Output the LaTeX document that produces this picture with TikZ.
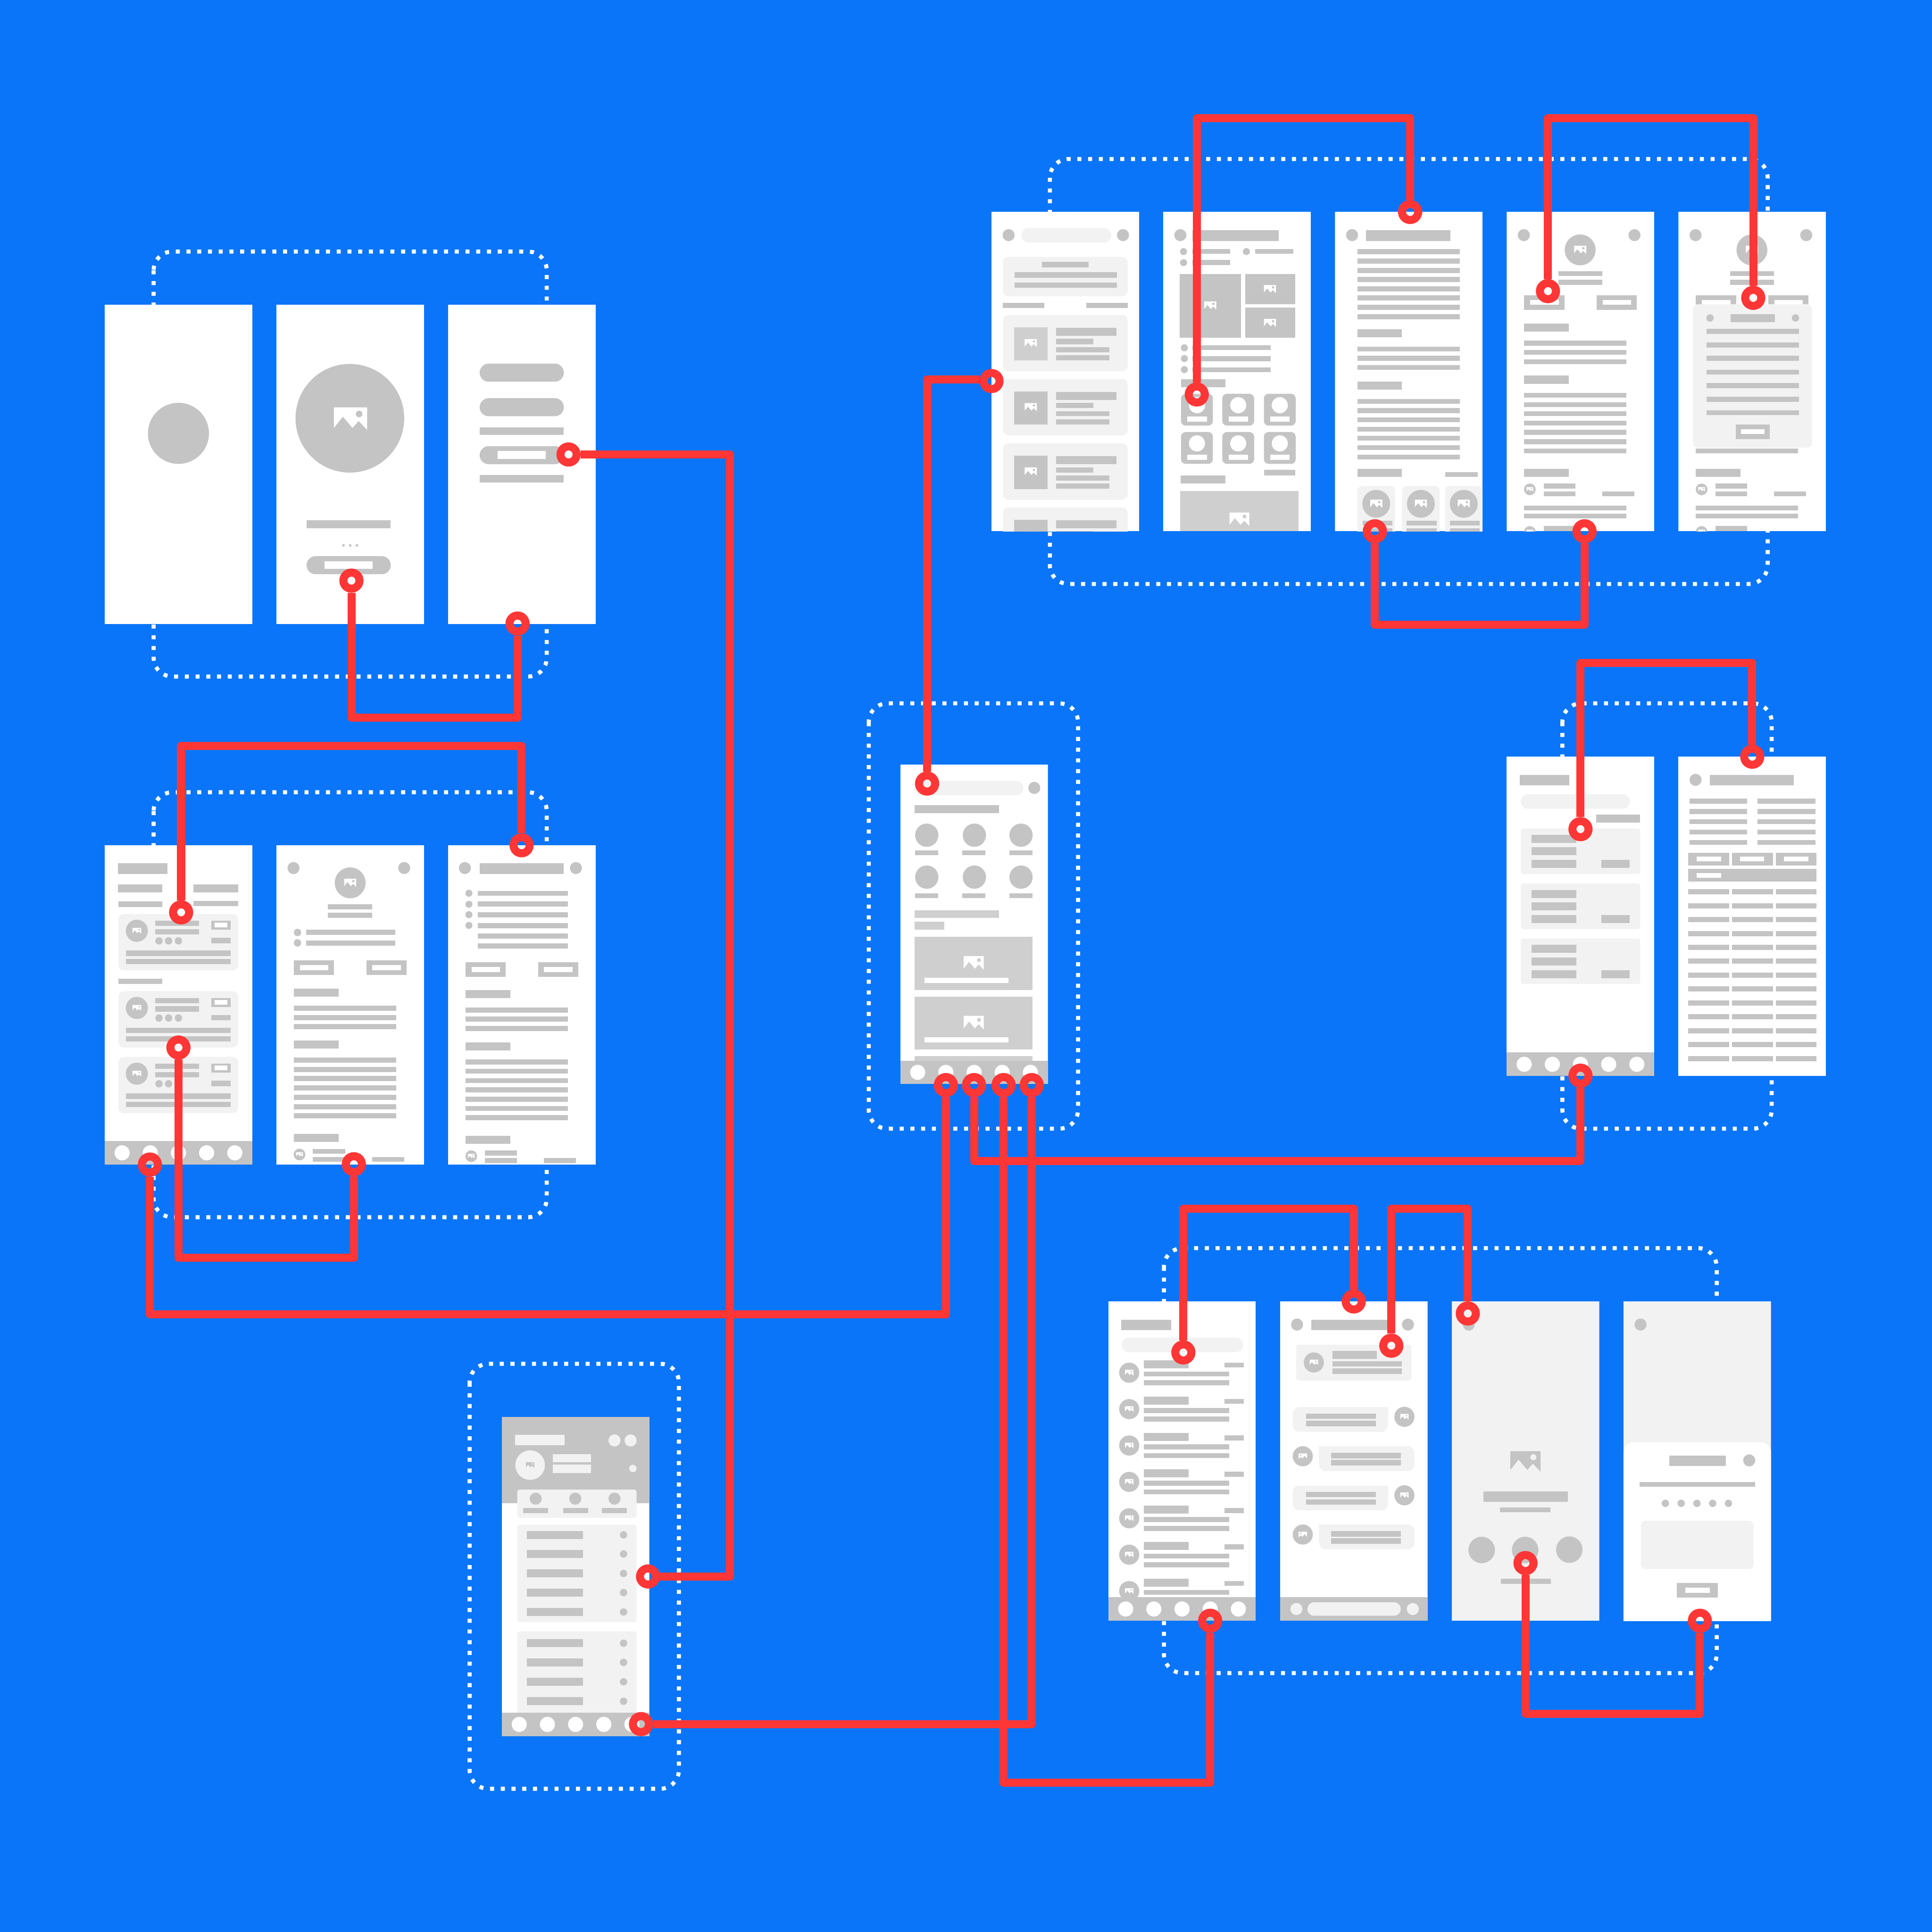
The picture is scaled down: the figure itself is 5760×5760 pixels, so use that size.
\documentclass[tikz,border=0pt]{standalone}
\definecolor{bluebg}{HTML}{0A75F8}
\definecolor{redl}{HTML}{FF3636}
\definecolor{gr}{HTML}{C4C4C4}
\definecolor{lg}{HTML}{F2F2F2}
\definecolor{mg}{HTML}{CFCFCF}
\tikzset{
  ring/.style={circle,draw=redl,line width=2.4mm,minimum size=4.8mm,inner sep=0pt,fill=none},
  link/.style={draw=redl,line width=2.4mm,line join=round},
  dotbox/.style={draw=white,line width=1.2mm,dash pattern=on 1.2mm off 2mm,rounded corners=5.6mm},
}
% bars
\newcommand\Bg[4]{\fill[gr] (#1,#2) rectangle ++(#3,#4);}
\newcommand\Bm[4]{\fill[mg] (#1,#2) rectangle ++(#3,#4);}
\newcommand\Bl[4]{\fill[lg] (#1,#2) rectangle ++(#3,#4);}
\newcommand\Bw[4]{\fill[white] (#1,#2) rectangle ++(#3,#4);}
% rounded rectangles: colour, x,y,w,h, radius in mm
\newcommand\Rd[6]{\fill[#1,rounded corners=#6mm] (#2,#3) rectangle ++(#4,#5);}
% discs
\newcommand\Cg[3]{\fill[gr] (#1,#2) circle[radius=#3];}
\newcommand\Cl[3]{\fill[lg] (#1,#2) circle[radius=#3];}
\newcommand\Cw[3]{\fill[white] (#1,#2) circle[radius=#3];}
% picture icon: cx,cy,scale (1 = 100 wide), fg, bg, xscale sign
\newcommand\Ic[6][1]{\begin{scope}[shift={(#2,#3)},scale=#4,xscale=#1]
  \fill[#5] (-50,28) -- (-50,-34) -- (50,-34) -- (50,34) -- (24.5,7) -- (6,28) -- (-23,-6) -- cycle;
  \fill[#6] (26,-14) circle[radius=10];
\end{scope}}
\newcommand\Nav{\Bg{0}{882}{440}{70}\foreach \x in {52,136,220,304,388}{\Cw{\x}{917}{22.5}}}
\newcommand\BtnPair[1]{% y top
  \Bg{52}{#1}{120}{44}\Bw{70}{\the\numexpr#1+14\relax}{85}{15}
  \Bg{268}{#1}{120}{44}\Bw{286}{\the\numexpr#1+14\relax}{85}{15}}
\newcommand\TFour{%
  \Cg{51}{69}{18}\Cg{381}{69}{18}
  \Cg{219}{113}{46}\Ic{219}{113}{0.36}{white}{gr}
  \Bg{154}{176}{131}{15}\Bg{154}{202}{131}{15}
  \BtnPair{248}
  \Bg{52}{333}{133}{24}
  \foreach \y in {384,411,439}{\Bg{52}{\y}{305}{15}}
  \Bg{52}{488}{133}{24}
  \foreach \y in {539,567,594,622,649,677,705}{\Bg{52}{\y}{305}{15}}
  \Bg{52}{766}{133}{24}
  \Cg{69}{827}{17.5}\Ic{69}{827}{0.2}{white}{gr}
  \Bg{110}{810}{95}{15}\Bg{110}{833}{95}{15}\Bg{285}{833}{95}{15}
  \Bg{52}{875}{305}{15}\Bg{52}{899}{305}{15}
  \Cg{69}{954}{17.5}\Ic{69}{954}{0.2}{white}{gr}
  \Bg{110}{936}{95}{16}}
\begin{document}
\begin{tikzpicture}[x=0.1mm,y=-0.1mm]
\useasboundingbox (0,0) rectangle (5760,5760);
\fill[bluebg] (0,0) rectangle (5760,5760);
% dotted group frames
\draw[dotbox] (458,750) rectangle (1630,2017);
\draw[dotbox] (458,2362) rectangle (1630,3629);
\draw[dotbox] (3130,474) rectangle (5270,1741);
\draw[dotbox] (2590,2097) rectangle (3214,3365);
\draw[dotbox] (4658,2097) rectangle (5282,3365);
\draw[dotbox] (3470,3721) rectangle (5118,4988);
\draw[dotbox] (1400,4066) rectangle (2024,5333);

% ---------- group A
\begin{scope}[shift={(312,908)}]
  \fill[white] (0,0) rectangle (440,952);
  \Cg{220}{384}{91}
\end{scope}
\begin{scope}[shift={(824,908)}]
  \fill[white] (0,0) rectangle (440,952);
  \Cg{219}{339}{162}\Ic{221}{340}{0.99}{white}{gr}
  \Bg{90}{643}{251}{24}
  \foreach \x in {200,220,240}{\Cg{\x}{718}{4}}
  \Rd{gr}{90}{750}{251}{54}{2.7}
  \Bw{143}{765}{144}{23}
\end{scope}
\begin{scope}[shift={(1336,908)}]
  \fill[white] (0,0) rectangle (440,952);
  \Rd{gr}{94}{176}{251}{54}{2.7}
  \Rd{gr}{94}{279}{251}{54}{2.7}
  \Bg{94}{366}{251}{23}
  \Rd{gr}{94}{422}{251}{54}{2.7}
  \Bw{148}{437}{143}{23}
  \Bg{94}{508}{251}{23}
\end{scope}

% ---------- group B
\begin{scope}[shift={(312,2520)}]
  \fill[white] (0,0) rectangle (440,952);
  \Bg{39}{54}{148}{32}
  \Bg{39}{117}{133}{24}\Bg{265}{117}{133}{24}
  \Bg{41}{168}{131}{16}\Bg{265}{166}{133}{16}
  \Bg{41}{398}{131}{16}
  \foreach \t in {205,435,631}{
    \begin{scope}[yshift={-\t*0.1mm}]
      \Rd{lg}{41}{0}{357}{168}{1.6}
      \Cg{96}{50}{33}\Ic{96}{50}{0.26}{white}{gr}
      \Bg{151}{20}{131}{16}\Bg{151}{45}{131}{16}
      \foreach \x in {162,190.5,220}{\Cg{\x}{80}{11}}
      \Bg{318}{20}{58}{27}\Bw{328}{26}{38}{14}
      \Bg{318}{71}{58}{16}
      \Bg{63}{109}{313}{16}\Bg{63}{134}{313}{16}
    \end{scope}}
  \Nav
\end{scope}
\begin{scope}[shift={(824,2520)}]
  \fill[white] (0,0) rectangle (440,952);
  \Cg{51}{68}{18}\Cg{381}{68}{18}
  \Cg{220}{112}{46}\Ic{220}{112}{0.36}{white}{gr}
  \Bg{154}{176}{131}{15}\Bg{154}{201}{131}{15}
  \Cg{63}{260}{11}\Cg{63}{291}{11}
  \Bg{88}{252}{266}{15}\Bg{88}{284}{266}{15}
  \BtnPair{343}
  \Bg{52}{427}{133}{24}
  \foreach \y in {478,506,533}{\Bg{52}{\y}{305}{15}}
  \Bg{52}{582}{133}{24}
  \foreach \y in {633,661,688,716,744,772,799}{\Bg{52}{\y}{305}{15}}
  \Bg{52}{861}{133}{24}
  \Cg{69}{922}{17.5}\Ic{69}{922}{0.2}{white}{gr}
  \Bg{109}{905}{96}{15}\Bg{109}{929}{96}{15}\Bg{285}{929}{96}{15}
\end{scope}
\begin{scope}[shift={(1336,2520)}]
  \fill[white] (0,0) rectangle (440,952);
  \Cg{50}{68}{18}\Cg{381}{68}{18}
  \Bg{94}{54}{250}{32}
  \foreach \y in {143,176,207,239}{\Cg{62}{\y}{10.5}}
  \foreach \y in {136,168,200,232,263,293}{\Bg{88}{\y}{269}{15}}
  \BtnPair{349}
  \Bg{52}{432}{133}{24}
  \foreach \y in {484,511,539}{\Bg{52}{\y}{305}{15}}
  \Bg{52}{588}{133}{24}
  \foreach \y in {639,666,694,722,750,777,805}{\Bg{52}{\y}{305}{15}}
  \Bg{52}{866}{133}{24}
  \Cg{69}{927}{17.5}\Ic{69}{927}{0.2}{white}{gr}
  \Bg{109}{910}{96}{15}\Bg{109}{933}{96}{15}\Bg{285}{933}{96}{15}
\end{scope}

% ---------- top right group
\begin{scope}[shift={(2956,632)}]
  \clip (0,0) rectangle (440,952);
  \fill[white] (0,0) rectangle (440,952);
  \Cg{51}{69}{18}\Cg{392}{69}{18}
  \Rd{lg}{89}{48}{268}{43}{2.1}
  \Rd{lg}{34}{134}{372}{117}{1.6}
  \Bg{150}{149}{140}{16}
  \Bg{69}{180}{305}{16}\Bg{69}{210}{305}{16}
  \Bg{34}{271}{123}{15}\Bg{283}{271}{123}{15}
  \foreach \t/\c in {307/mg,498/gr,690/gr,881/gr}{
    \begin{scope}[yshift={-\t*0.1mm}]
      \Rd{lg}{34}{0}{372}{168}{1.6}
      \fill[\c] (68,37) rectangle ++(99,99);
      \Ic{117}{84}{0.36}{white}{\c}
      \Bg{193}{38}{179}{24}
      \Bg{193}{71}{110}{16}
      \Bg{193}{96}{159}{15}\Bg{193}{120}{159}{15}
    \end{scope}}
\end{scope}
\begin{scope}[shift={(3468,632)}]
  \clip (0,0) rectangle (440,952);
  \fill[white] (0,0) rectangle (440,952);
  \Cg{51}{69}{18}
  \Bg{87}{54}{257}{32}
  \Cg{60.5}{118}{10.5}\Cg{248}{118}{10.5}\Cg{60.5}{151}{10.5}
  \Bg{87}{110}{113}{15}\Bg{274}{110}{114}{15}\Bg{87}{143}{113}{15}
  \Bg{49}{185}{183}{190}\Ic{140}{279}{0.36}{white}{gr}
  \Bg{244}{185}{150}{90}\Ic{318}{230}{0.36}{white}{gr}
  \Bg{244}{285}{150}{90}\Ic{318}{331}{0.36}{white}{gr}
  \foreach \y in {405,437,470}{\Cg{63}{\y}{10.5}}
  \foreach \y in {397,430,463}{\Bg{87}{\y}{233}{15}}
  \Bg{53}{499}{133}{24}
  \foreach \x in {53,176,300}{\foreach \y in {542,656}{
    \begin{scope}[xshift=\x*0.1mm,yshift={-\y*0.1mm}]
      \Rd{gr}{0}{0}{95}{95}{1.4}
      \Cw{47.5}{34}{24}
      \Bw{19}{68}{58}{15}
    \end{scope}}}
  \Bg{300}{769}{94}{16}
  \Bg{52}{785}{133}{24}
  \Bm{51}{832}{352}{120}\Ic{227}{916}{0.59}{white}{mg}
\end{scope}
\begin{scope}[shift={(3980,632)}]
  \clip (0,0) rectangle (440,952);
  \fill[white] (0,0) rectangle (440,952);
  \Cg{51}{69}{18}
  \Bg{93}{54}{251}{32}
  \foreach \y in {111,139,167,194,222,249,277,305}{\Bg{67}{\y}{305}{15}}
  \Bg{67}{350}{133}{24}
  \foreach \y in {401,429,456}{\Bg{67}{\y}{305}{15}}
  \Bg{67}{506}{133}{24}
  \foreach \y in {557,585,612,640,667,695,723}{\Bg{67}{\y}{305}{15}}
  \Bg{67}{766}{133}{24}
  \Bg{328}{775}{98}{15}
  \foreach \x/\c in {67/123,200/256,328/384}{
    \Rd{lg}{\x}{817}{112}{180}{1.4}
    \Cg{\c}{870}{41.5}\Ic{\c}{870}{0.36}{white}{gr}
  }
  \foreach \x in {82,214,343}{\Bg{\x}{920}{89}{15}\Bg{\x}{943}{89}{15}}
\end{scope}
\begin{scope}[shift={(4492,632)}]
  \clip (0,0) rectangle (440,952);
  \fill[white] (0,0) rectangle (440,952);
  \TFour
\end{scope}
\begin{scope}[shift={(5004,632)}]
  \clip (0,0) rectangle (440,952);
  \fill[white] (0,0) rectangle (440,952);
  \TFour
  \Rd{lg}{43}{275}{355}{428}{1.4}
  \Cg{94}{316}{11}\Cg{349}{316}{11}
  \Bg{155}{305}{133}{24}
  \foreach \y in {348,389,429,470,510,551,591}{\Bg{84}{\y}{276}{15}}
  \Bg{171}{633}{101}{44}\Bw{186}{648}{71}{14}
\end{scope}

% ---------- centre screen
\begin{scope}[shift={(2684,2280)}]
  \clip (0,0) rectangle (440,952);
  \fill[white] (0,0) rectangle (440,952);
  \Rd{lg}{42}{48}{325}{43}{2.1}
  \Cg{399.5}{69}{18}
  \Bg{42}{121}{252}{24}
  \foreach \y/\b in {210/255,335/383}{
    \Cg{79}{\y}{34.7}\Cg{221}{\y}{34.7}\Cg{360}{\y}{34.7}
    \Bg{44.5}{\b}{69}{15}\Bg{185}{\b}{69}{15}\Bg{325}{\b}{69}{15}
  }
  \Bm{42}{434}{252}{23}\Bm{42}{468}{89}{23}
  \Bm{42}{513}{352}{158}\Ic{219}{591}{0.6}{white}{mg}\Bw{72}{635}{251}{15}
  \Bm{42}{691}{352}{158}\Ic{219}{769}{0.6}{white}{mg}\Bw{72}{813}{251}{15}
  \Bm{42}{868}{352}{20}
  \Nav
\end{scope}

% ---------- right middle group
\begin{scope}[shift={(4492,2256)}]
  \fill[white] (0,0) rectangle (440,952);
  \Bg{39}{54}{148}{31}
  \Rd{lg}{42}{112}{325}{43}{2.1}
  \Bg{266}{173}{132}{24}
  \foreach \t in {214,378,542}{
    \begin{scope}[yshift={-\t*0.1mm}]
      \Rd{lg}{42}{0}{356}{136}{0.8}
      \Bg{74}{19}{133}{24}\Bg{74}{56}{133}{24}\Bg{74}{94}{133}{24}
      \Bg{282}{94}{85}{24}
    \end{scope}}
  \Nav
\end{scope}
\begin{scope}[shift={(5004,2256)}]
  \fill[white] (0,0) rectangle (440,952);
  \Cg{51}{69}{18}
  \Bg{93}{54}{251}{31}
  \foreach \y in {125,156,186,217,248}{\Bg{33}{\y}{171}{15}\Bg{236}{\y}{172}{15}}
  \Bg{29}{286}{122}{39}\Bg{159}{286}{123}{39}\Bg{290}{286}{122}{39}
  \Bw{54}{298}{73}{14}\Bw{183}{298}{72}{14}\Bw{315}{298}{73}{14}
  \Bg{29}{334}{383}{38}\Bw{54}{347}{73}{14}
  \foreach \y in {395,437,478,520,561,602,644,685,727,768,810,851,893}{
    \Bg{29}{\y}{122}{15}\Bg{159}{\y}{123}{15}\Bg{290}{\y}{122}{15}}
\end{scope}

% ---------- bottom right group
\begin{scope}[shift={(3304,3880)}]
  \clip (0,0) rectangle (440,952);
  \fill[white] (0,0) rectangle (440,952);
  \Bg{39}{54}{148}{31}
  \Rd{lg}{40}{108}{362}{43}{2.1}
  \foreach \t in {0,1,2,3,4,5,6}{
    \begin{scope}[yshift={-\t*10.85mm}]
      \Cg{62.5}{212.5}{30}\Ic{62.5}{212.5}{0.25}{white}{gr}
      \Bg{106}{175}{133}{24}
      \Bg{346}{182}{58}{15}
      \Bg{106}{209}{255}{15}\Bg{106}{235}{255}{15}
    \end{scope}}
  \Nav
\end{scope}
\begin{scope}[shift={(3816,3880)}]
  \clip (0,0) rectangle (440,952);
  \fill[white] (0,0) rectangle (440,952);
  \Cg{51}{69}{18}\Cg{381.6}{69}{18}
  \Bg{94}{54}{250}{31}
  \Rd{lg}{48}{129}{344}{107}{0.8}
  \Cg{101}{182}{30}\Ic{101}{182}{0.25}{white}{gr}
  \Bg{156}{147}{133}{24}
  \Bg{156}{178}{208}{16}\Bg{156}{200}{208}{16}
  % incoming bubbles
  \foreach \t in {315,549}{
    \begin{scope}[yshift={-\t*0.1mm}]
      \Rd{lg}{38}{0}{284}{74}{2}\Bl{290}{0}{32}{30}
      \Cg{371}{29}{30}\Ic{371}{29}{0.25}{white}{gr}
      \Bg{78}{19}{208}{16}\Bg{78}{41}{208}{16}
    \end{scope}}
  % outgoing bubbles
  \foreach \t in {431.5,665}{
    \begin{scope}[yshift={-\t*0.1mm}]
      \Rd{lg}{116.5}{0}{284.5}{74}{2}\Bl{116.5}{0}{32}{30}
      \Cg{68}{30}{30}\Ic[-1]{68}{30}{0.25}{white}{gr}
      \Bg{153}{20}{207}{16}\Bg{153}{41}{207}{16}
    \end{scope}}
  \Bg{0}{882}{440}{70}
  \Cl{49}{917}{18}\Cl{396}{917}{18}
  \Rd{lg}{82}{897}{278}{40}{2}
\end{scope}
\begin{scope}[shift={(4328,3880)}]
  \clip (0,0) rectangle (440,952);
  \fill[lg] (0,0) rectangle (440,952);
  \Cg{51}{69}{18}
  \Ic{220}{477}{0.9}{gr}{lg}
  \Bg{95}{566}{251}{31}
  \Bg{144}{614}{150}{15}
  \Cg{89.4}{741}{39.5}\Cg{219}{741}{39.5}\Cg{350.6}{740}{39.5}
  \Bg{147}{827}{149}{15}
\end{scope}
\begin{scope}[shift={(4840,3880)}]
  \clip (0,0) rectangle (440,952);
  \fill[lg] (0,0) rectangle (440,952);
  \Cg{51}{69}{18}
  \Rd{white}{0}{420}{440}{660}{3}
  \Bg{136}{460}{169}{31}
  \Cg{375}{474}{18}
  \Bg{47.5}{538}{345}{15}
  \foreach \x in {125,172,219,266,313}{\Cg{\x}{602}{11}}
  \Rd{lg}{52}{654}{336}{144}{1.4}
  \Bg{159}{839}{123}{44}\Bw{185}{854}{72}{15}
\end{scope}

% ---------- bottom left screen
\begin{scope}[shift={(1496,4224)}]
  \clip (0,0) rectangle (440,952);
  \fill[white] (0,0) rectangle (440,952);
  \Bg{0}{0}{440}{257}
  \Bl{39}{54}{148}{31}
  \Cl{336}{70.5}{18}\Cl{384}{70.5}{18}
  \Cl{84.5}{144}{44}\Ic{84.5}{144}{0.25}{gr}{lg}
  \Bl{152}{111}{114}{24}\Bl{152}{143}{114}{24}
  \Cl{391}{154}{11}
  \Rd{lg}{46}{217}{356}{84}{0.8}
  \Cg{101}{244}{18}\Cg{219}{244}{18}\Cg{336}{244}{18}
  \Bg{64}{272}{74}{15}\Bg{183}{272}{74}{15}\Bg{298.5}{272}{74}{15}
  \Rd{lg}{46}{322}{356}{290}{0.8}
  \foreach \y in {340,397,455,512,570}{\Bg{75}{\y}{167}{24}\Cg{363}{\y+12}{11}}
  \Rd{lg}{46}{640}{356}{330}{0.8}
  \foreach \y in {663,720,778,836}{\Bg{75}{\y}{167}{24}\Cg{363}{\y+12}{11}}
  \Nav
\end{scope}

% ---------- bend positions
\coordinate (kA) at (0,2140);
\coordinate (kB) at (2176,0);
\coordinate (kC) at (0,2224);
\coordinate (kD) at (0,3750);
\coordinate (kE) at (0,3918);
\coordinate (kF) at (0,1131);
\coordinate (kG) at (0,352);
\coordinate (kH) at (0,1862);
\coordinate (kI) at (0,1976);
\coordinate (kJ) at (0,3461);
\coordinate (kK) at (0,5315);
\coordinate (kL) at (0,3604);
\coordinate (kM) at (0,5109);

% ---------- connector end rings
\node[ring] (a2) at (1047.7,1731) {};
\node[ring] (a3b) at (1543,1859) {};
\node[ring] (a3r) at (1695,1355) {};
\node[ring] (bl1) at (1932,4700) {};
\node[ring] (bl2) at (1911,5140) {};
\node[ring] (c0) at (2764,2336) {};
\node[ring] (c1) at (2820,3235) {};
\node[ring] (c2) at (2904,3235) {};
\node[ring] (c3) at (2992,3235) {};
\node[ring] (c4) at (3076,3235) {};
\node[ring] (t1) at (2956,1136) {};
\node[ring] (t2) at (3568,1176) {};
\node[ring] (t3t) at (4204,632) {};
\node[ring] (t3b) at (4099,1584) {};
\node[ring] (t4t) at (4615,868) {};
\node[ring] (t4b) at (4724,1584) {};
\node[ring] (t5) at (5227,888) {};
\node[ring] (b1t) at (540,2720) {};
\node[ring] (b3t) at (1555,2520) {};
\node[ring] (b1m) at (532,3123) {};
\node[ring] (b2b) at (1055,3471) {};
\node[ring] (b1b) at (447,3472) {};
\node[ring] (rm1m) at (4712,2472) {};
\node[ring] (rm2t) at (5224,2256) {};
\node[ring] (rm1b) at (4712,3207) {};
\node[ring] (br1m) at (3528,4032) {};
\node[ring] (br2t) at (4036,3880) {};
\node[ring] (br1b) at (3608,4832) {};
\node[ring] (br2m) at (4148,4012) {};
\node[ring] (br3t) at (4376,3916) {};
\node[ring] (br3m) at (4548,4660) {};
\node[ring] (br4b) at (5068,4832) {};

% ---------- connectors
\draw[link] (a2.south) -- (a2.south |- kA) -- (a3b.south |- kA) -- (a3b.south);
\draw[link] (a3r.east) -- (kB |- a3r.east) -- (kB |- bl1.east) -- (bl1.east);
\draw[link] (bl2.east) -- (c4.south |- bl2.east) -- (c4.south);
\draw[link] (b1t.north) -- (b1t.north |- kC) -- (b3t.north |- kC) -- (b3t.north);
\draw[link] (b1m.south) -- (b1m.south |- kD) -- (b2b.south |- kD) -- (b2b.south);
\draw[link] (b1b.south) -- (b1b.south |- kE) -- (c1.south |- kE) -- (c1.south);
\draw[link] (c0.north) -- (c0.north |- kF) -- (t1.west |- kF);
\draw[link] (t2.north) -- (t2.north |- kG) -- (t3t.north |- kG) -- (t3t.north);
\draw[link] (t4t.north) -- (t4t.north |- kG) -- (t5.north |- kG) -- (t5.north);
\draw[link] (t3b.south) -- (t3b.south |- kH) -- (t4b.south |- kH) -- (t4b.south);
\draw[link] (rm1m.north) -- (rm1m.north |- kI) -- (rm2t.north |- kI) -- (rm2t.north);
\draw[link] (c2.south) -- (c2.south |- kJ) -- (rm1b.south |- kJ) -- (rm1b.south);
\draw[link] (c3.south) -- (c3.south |- kK) -- (br1b.south |- kK) -- (br1b.south);
\draw[link] (br1m.north) -- (br1m.north |- kL) -- (br2t.north |- kL) -- (br2t.north);
\draw[link] (br2m.north) -- (br2m.north |- kL) -- (br3t.north |- kL) -- (br3t.north);
\draw[link] (br3m.south) -- (br3m.south |- kM) -- (br4b.south |- kM) -- (br4b.south);
\end{tikzpicture}
\end{document}
